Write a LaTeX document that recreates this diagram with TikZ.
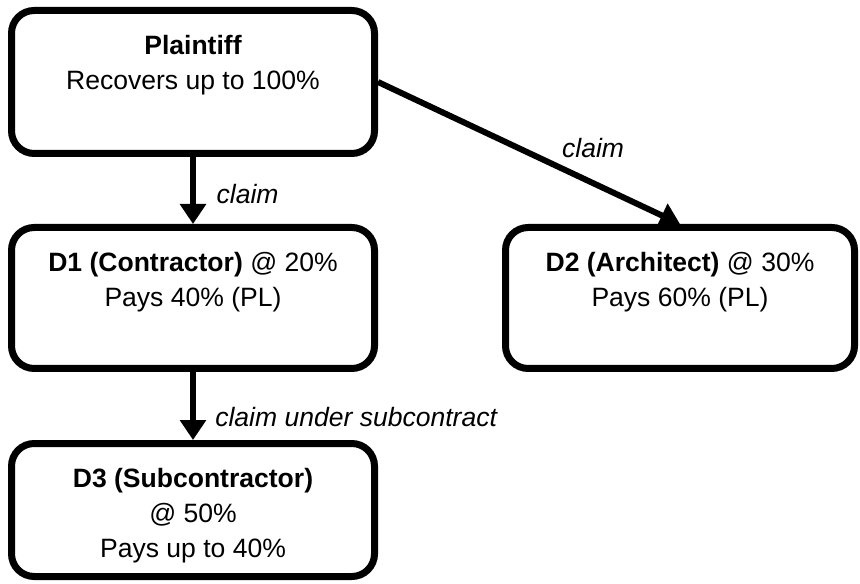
\documentclass[tikz,border=0pt]{standalone}
\usepackage{fontspec}
\setmainfont{Liberation Sans}
\usetikzlibrary{arrows.meta}
\begin{document}
\begin{tikzpicture}[x=0.75pt,y=-0.75pt,
  box/.style={draw=black, line width=5.25pt, rounded corners=17pt, fill=white, inner sep=0pt},
  leftbox/.style={box, minimum width=272.25pt},
  boxtext/.style={anchor=north, align=center, inner sep=0pt, font=\fontsize{19.9pt}{26.25pt}\selectfont},
  conn/.style={line width=4.5pt, -{Triangle[length=15pt,width=19pt]}},
  lab/.style={inner sep=0pt, font=\fontsize{19.9pt}{26.25pt}\selectfont\itshape}]
\useasboundingbox (0,0) rectangle (860,584);
\node[leftbox, minimum height=107.25pt] (P) at (193,82) {};
\node[leftbox, minimum height=105.75pt] (D1) at (193,298) {};
\node[box, minimum width=261.75pt, minimum height=105.75pt] (D2) at (680,298) {};
\node[leftbox, minimum height=99.75pt] (D3) at (193,510) {};
\node[boxtext] (Pt) at ([yshift=-21pt]P.north) {\textbf{Plaintiff}\\Recovers up to 100\%};
\node[boxtext] (D1t) at ([yshift=-21pt]D1.north) {\textbf{D1 (Contractor)} @ 20\%\\Pays 40\% (PL)};
\node[boxtext] (D2t) at ([yshift=-21pt]D2.north) {\textbf{D2 (Architect)} @ 30\%\\Pays 60\% (PL)};
\node[boxtext] (D3t) at ([yshift=-21pt]D3.north) {\textbf{D3 (Subcontractor)}\\@ 50\%\\Pays up to 40\%};
\draw[conn] (P.south) -- node[lab, midway, anchor=west, xshift=15.5pt, yshift=-2.6pt] (L1) {claim} (D1.north);
\draw[conn] (P.east) -- node[lab, pos=0.66, xshift=11.8pt, yshift=20.8pt] (L2) {claim} (D2.north);
\draw[conn] (D1.south) -- node[lab, midway, anchor=west, xshift=14.5pt, yshift=-8pt] (L3) {claim under subcontract} (D3.north);
\end{tikzpicture}
\end{document}
